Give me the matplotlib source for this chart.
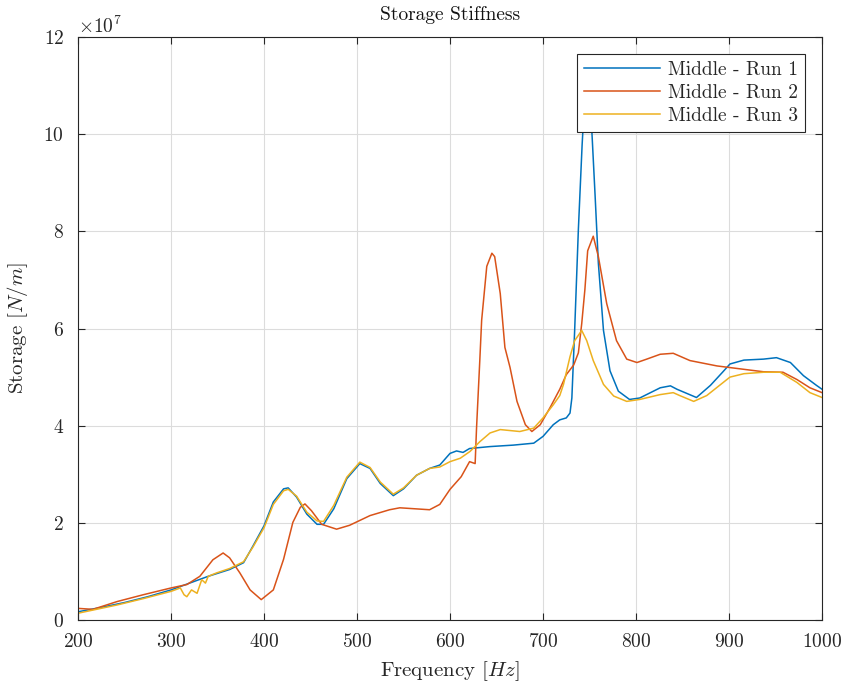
import matplotlib
matplotlib.use('Agg')
import matplotlib.pyplot as plt
from matplotlib.ticker import ScalarFormatter

plt.rcParams['font.family'] = ['cmr10', 'DejaVu Serif']
plt.rcParams['mathtext.fontset'] = 'cm'
plt.rcParams['axes.formatter.use_mathtext'] = True

SCALE = 1e7
INK = '#262626'

# Run 1 (blue), values in units of 1e7 N/m
f1 = [200, 225, 250, 275, 300, 320, 340, 363, 378, 388, 400, 410, 421, 426, 435, 446,
      457, 464, 475, 489, 503, 514, 525, 539, 550, 564, 578, 589, 600, 607, 614, 621,
      643, 668, 690, 700, 711, 718, 725, 729, 731, 734, 738, 742, 744, 748, 752, 756,
      759.5, 765, 772, 781, 793, 804, 826, 837, 844, 865, 880, 893, 901, 916, 937, 951,
      966, 980, 994, 1000]
s1 = [0.17, 0.26, 0.36, 0.48, 0.62, 0.76, 0.90, 1.04, 1.18, 1.52, 1.94, 2.43, 2.70, 2.72, 2.53, 2.18,
      1.97, 1.97, 2.29, 2.91, 3.22, 3.12, 2.81, 2.56, 2.70, 2.98, 3.12, 3.19, 3.43, 3.48, 3.45, 3.53,
      3.57, 3.60, 3.64, 3.78, 4.02, 4.12, 4.16, 4.26, 4.57, 5.96, 8.04, 9.77, 10.47, 10.7, 10.25, 8.73,
      7.34, 5.96, 5.13, 4.71, 4.54, 4.57, 4.78, 4.82, 4.75, 4.58, 4.83, 5.10, 5.27, 5.35, 5.37, 5.40,
      5.30, 5.03, 4.83, 4.75]

# Run 2 (red)
f2 = [200, 216, 242, 270, 300, 317, 331, 345, 356, 363, 374, 385, 397, 410, 421, 431,
      439, 444, 451, 462, 478, 492, 514, 535, 546, 578, 589, 600, 612, 621, 627, 628.5,
      632, 634, 639.5, 645, 648, 654, 659, 664.5, 672, 681, 688, 697, 707.5, 718, 725, 733,
      738, 741.6, 745, 748, 754, 759.5, 768.5, 779, 790, 801, 811.5, 826, 840, 858, 887, 916,
      937, 958, 973, 987, 1000]
s2 = [0.24, 0.22, 0.38, 0.52, 0.66, 0.73, 0.90, 1.24, 1.38, 1.28, 0.97, 0.62, 0.42, 0.62, 1.25, 2.01,
      2.32, 2.39, 2.25, 1.97, 1.87, 1.95, 2.15, 2.27, 2.31, 2.27, 2.38, 2.69, 2.95, 3.26, 3.22, 3.95,
      5.34, 6.17, 7.28, 7.55, 7.48, 6.72, 5.61, 5.20, 4.50, 4.02, 3.88, 4.02, 4.37, 4.75, 5.05, 5.25,
      5.50, 6.10, 6.80, 7.60, 7.90, 7.48, 6.51, 5.75, 5.37, 5.30, 5.37, 5.47, 5.49, 5.34, 5.23, 5.16,
      5.11, 5.10, 4.95, 4.78, 4.68]

# Run 3 (yellow)
f3 = [200, 242, 270, 300, 310, 314, 317, 322, 328, 333, 337, 340, 349, 363, 378, 388,
      400, 410, 421, 426, 435, 446, 457, 464, 475, 489, 503, 514, 525, 539, 550, 564,
      578, 589, 600, 611, 621.5, 632, 643, 654, 675, 690, 700, 711, 718, 722, 729, 734,
      741.6, 747, 754, 765, 776, 790, 804, 826, 840, 847, 862, 876, 901, 916, 937, 955,
      973, 987, 1000]
s3 = [0.14, 0.31, 0.44, 0.59, 0.66, 0.52, 0.48, 0.62, 0.55, 0.83, 0.76, 0.90, 0.97, 1.06, 1.20, 1.50,
      1.90, 2.38, 2.66, 2.69, 2.55, 2.22, 2.04, 2.03, 2.36, 2.94, 3.25, 3.14, 2.84, 2.59, 2.72, 2.98,
      3.12, 3.15, 3.26, 3.33, 3.47, 3.67, 3.85, 3.92, 3.88, 3.95, 4.16, 4.43, 4.62, 4.85, 5.42, 5.75,
      5.96, 5.75, 5.34, 4.85, 4.61, 4.50, 4.54, 4.64, 4.68, 4.62, 4.50, 4.62, 5.00, 5.07, 5.10, 5.10,
      4.89, 4.68, 4.58]

fig = plt.figure(figsize=(8.5, 6.89), dpi=100)
ax = fig.add_axes([0.0918, 0.1001, 0.8753, 0.8462])

ax.plot(f1, [v * SCALE for v in s1], color='#0072BD', lw=1.1, label='Middle - Run 1')
ax.plot(f2, [v * SCALE for v in s2], color='#D95319', lw=1.1, label='Middle - Run 2')
ax.plot(f3, [v * SCALE for v in s3], color='#EDB120', lw=1.1, label='Middle - Run 3')

ax.set_xlim(200, 1000)
ax.set_ylim(0, 12e7)
ax.set_xticks(range(200, 1001, 100))
ax.set_yticks([i * 2e7 for i in range(7)])
fmt = ScalarFormatter(useMathText=True)
fmt.set_powerlimits((7, 7))
ax.yaxis.set_major_formatter(fmt)

ax.grid(True, color='#dcdcdc', lw=0.8)
ax.set_axisbelow(True)
ax.tick_params(direction='in', top=True, right=True, labelsize=14, length=5,
               color=INK, labelcolor=INK)
ax.tick_params(axis='x', pad=9)
ax.tick_params(axis='y', pad=10)
for sp in ax.spines.values():
    sp.set_color(INK)
    sp.set_linewidth(0.8)
ax.yaxis.get_offset_text().set_fontsize(14)
ax.yaxis.get_offset_text().set_color(INK)

ax.set_title('Storage Stiffness', fontsize=14, pad=12, color='#111111')
ax.set_xlabel(r'Frequency $[Hz]$', fontsize=15, labelpad=6, color=INK)
ax.set_ylabel(r'Storage $[N/m]$', fontsize=15, labelpad=10, color=INK)

leg = ax.legend(loc='upper right', fontsize=14, fancybox=False, framealpha=1,
                edgecolor=INK, borderaxespad=0.9, handlelength=3.9, handletextpad=0.4,
                borderpad=0.35, labelspacing=0.25)
leg.get_frame().set_linewidth(0.8)
for t in leg.get_texts():
    t.set_color(INK)

fig.savefig('out.png', dpi=100)
